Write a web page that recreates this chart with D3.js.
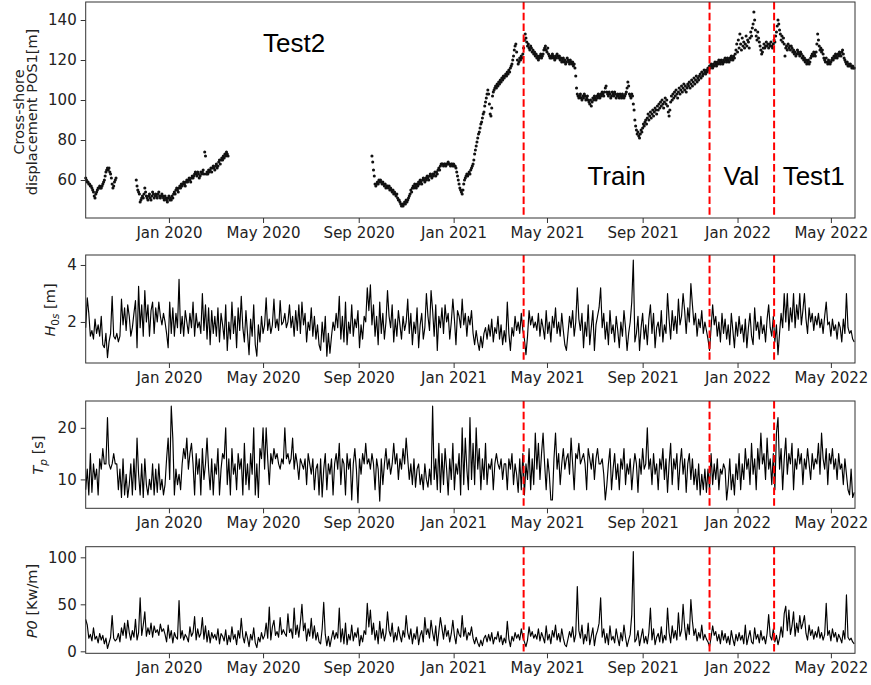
<!DOCTYPE html>
<html>
<head>
<meta charset="utf-8">
<title>Shoreline position and wave forcing</title>
<script src="https://cdn.jsdelivr.net/npm/d3@7"></script>
<style>
  html, body { margin: 0; padding: 0; background: #fff; }
  svg { display: block; }
</style>
</head>
<body>
<svg id="chart" width="871" height="685"></svg>
<script>
// ---------------- data ----------------
// Cross-shore shoreline position POS1 [m], daily values in three survey segments
const pos1SegmentStarts = ["2019-09-16", "2019-11-20", "2020-09-18"];
const pos1SegmentA = [
  61, 60, 59, 59, 58, 58, 57, 57, 56, 55,
  54, 52, 51, 53, 54, 55, 56, 56, 57, 56,
  56, 57, 58, 59, 60, 62, 64, 65, 66, 65,
  66, 64, 63, 61, 58, 56, 57, 59, 60, 61
];
const pos1SegmentB = [
  60, 57, 55, 54, 53, 49, 50, 51, 52, 51,
  53, 56, 54, 52, 51, 50, 52, 53, 51, 50,
  52, 54, 53, 51, 52, 53, 52, 51, 53, 54,
  52, 51, 52, 53, 52, 51, 50, 52, 51, 50,
  49, 51, 52, 50, 51, 50, 52, 51, 53, 54,
  53, 55, 56, 55, 54, 56, 57, 56, 58, 57,
  58, 59, 58, 57, 59, 60, 59, 60, 61, 60,
  59, 61, 62, 61, 62, 63, 64, 63, 62, 64,
  63, 61, 62, 64, 63, 64, 65, 63, 74, 72,
  63, 64, 63, 65, 64, 65, 66, 64, 66, 67,
  66, 65, 67, 68, 66, 67, 69, 70, 68, 70,
  71, 70, 72, 71, 73, 72, 74, 73, 72
];
const pos1SegmentC = [
  72, 69, 65, 62, 58, 57, 58, 59, 58, 60,
  59, 60, 59, 58, 59, 58, 57, 58, 56, 57,
  57, 56, 57, 55, 56, 55, 54, 55, 53, 54,
  53, 52, 53, 51, 50, 50, 49, 48, 47, 48,
  47, 48, 49, 48, 50, 49, 50, 51, 52, 53,
  55, 54, 56, 57, 56, 58, 57, 56, 58, 57,
  59, 58, 60, 59, 58, 60, 61, 60, 59, 61,
  60, 62, 61, 60, 62, 63, 62, 61, 63, 62,
  63, 64, 62, 64, 63, 65, 66, 65, 67, 68,
  68, 68, 67, 68, 68, 67, 68, 68, 69, 68,
  68, 67, 68, 68, 67, 68, 67, 67, 66, 64,
  62, 60, 58, 56, 55, 54, 53, 55, 58, 60,
  61, 62, 63, 62, 63, 64, 63, 65, 66, 67,
  68, 70, 73, 75, 77, 79, 81, 83, 84, 86,
  88, 89, 91, 93, 94, 97, 99, 101, 103, 105,
  103, 98, 93, 92, 96, 102, 104, 105, 106, 107,
  106, 108, 107, 109, 108, 110, 109, 111, 110, 112,
  111, 112, 113, 112, 114, 113, 115, 114, 116, 117,
  118, 120, 122, 125, 127, 128, 124, 120, 118, 119,
  121, 120, 122, 121, 123, 126, 130, 133, 131, 129,
  127, 128, 126, 125, 127, 126, 124, 125, 123, 124,
  122, 123, 121, 122, 120, 121, 122, 123, 121, 122,
  123, 125, 126, 127, 125, 124, 126, 123, 122, 121,
  122, 121, 123, 122, 121, 120, 122, 121, 123, 122,
  121, 122, 120, 121, 119, 120, 121, 119, 120, 118,
  119, 121, 120, 119, 118, 120, 119, 118, 119, 117,
  118, 116, 112, 106, 103, 102, 101, 102, 103, 101,
  100, 102, 101, 103, 102, 100, 101, 102, 100, 99,
  98, 100, 97, 99, 101, 100, 102, 101, 100, 102,
  101, 103, 102, 101, 103, 102, 104, 103, 102, 104,
  106, 107, 104, 103, 102, 104, 103, 101, 102, 104,
  103, 102, 104, 103, 101, 102, 103, 102, 101, 103,
  102, 101, 103, 102, 101, 102, 103, 104, 106, 109,
  107, 103, 102, 101, 103, 102, 98, 95, 90, 87,
  85, 83, 84, 82, 81, 83, 85, 84, 86, 88,
  87, 89, 90, 88, 91, 93, 90, 92, 94, 91,
  93, 95, 92, 94, 96, 95, 93, 97, 95, 98,
  96, 99, 97, 100, 98, 96, 99, 101, 98, 100,
  97, 94, 92, 95, 99, 102, 100, 103, 101, 104,
  102, 105, 103, 101, 104, 106, 103, 105, 107, 104,
  106, 108, 105, 107, 104, 106, 108, 107, 109, 106,
  108, 110, 107, 109, 111, 108, 110, 112, 109, 111,
  110, 112, 113, 111, 114, 112, 113, 115, 114, 113,
  115, 114, 116, 115, 117, 116, 118, 117, 116, 118,
  117, 119, 118, 117, 119, 118, 120, 119, 118, 120,
  119, 118, 120, 119, 121, 120, 119, 121, 120, 119,
  121, 120, 122, 121, 120, 122, 121, 123, 125, 128,
  124, 130, 126, 133, 128, 125, 131, 127, 129, 126,
  128, 132, 127, 130, 129, 126, 131, 134, 132, 136,
  138, 144, 140, 135, 132, 130, 134, 131, 129, 127,
  125, 123, 124, 126, 128, 126, 127, 129, 127, 128,
  126, 128, 127, 129, 127, 126, 128, 130, 129, 132,
  134, 137, 140, 138, 135, 133, 130, 132, 129, 131,
  128, 122, 126, 127, 125, 128, 126, 127, 125, 127,
  126, 124, 125, 123, 124, 122, 123, 125, 124, 123,
  122, 124, 123, 121, 122, 120, 121, 119, 120, 118,
  119, 120, 118, 119, 121, 122, 123, 122, 124, 123,
  122, 124, 128, 133, 130, 127, 125, 126, 124, 125,
  123, 121, 120, 119, 121, 119, 118, 120, 119, 118,
  119, 120, 121, 120, 122, 121, 123, 122, 121, 123,
  122, 124, 123, 122, 124, 125, 123, 121, 120, 119,
  118, 119, 117, 118, 117, 118, 117, 116, 117, 116, 116
];

// Wave forcing, one value every two days from the start date
const waveStart = "2019-09-16";
const waveStepDays = 2;
const hs = [
  1.8, 2.85, 2.3, 1.5, 1.7, 1.4, 2.1, 1.6, 1.9, 1.5,
  2.2, 1.2, 1.1, 1.6, 0.75, 1.3, 1.6, 2.9, 1.5, 1.4,
  1.6, 1.3, 1.5, 2.8, 1.9, 2.5, 1.7, 2.6, 2.2, 1.5,
  1.8, 2.3, 2.75, 1.1, 3.25, 1.8, 2.6, 1.5, 3.1, 2.0,
  2.6, 1.5, 2.4, 2.7, 1.6, 2.5, 2.0, 2.7, 2.2, 1.9,
  2.3, 2.0, 1.6, 1.1, 2.7, 1.6, 2.5, 1.5, 2.3, 1.8,
  3.5, 1.6, 2.2, 1.5, 2.4, 2.0, 1.6, 2.3, 1.8, 2.7,
  1.5, 2.3, 1.8, 2.0, 1.6, 3.0, 1.7, 2.6, 1.4, 2.5,
  1.2, 2.4, 1.6, 2.2, 1.5, 2.5, 1.3, 2.3, 1.9, 1.4,
  2.6, 1.0, 2.0, 1.4, 2.7, 1.6, 2.2, 1.1, 2.5, 1.7,
  2.9, 1.8, 1.3, 2.4, 1.6, 0.85, 2.1, 1.5, 2.6, 1.2,
  0.8, 1.9, 1.3, 2.2, 1.6, 1.9, 2.85, 1.7, 2.1, 1.6,
  1.9, 2.8, 1.8, 2.1, 1.7, 2.75, 1.9, 2.0, 2.3, 1.8,
  2.0, 2.6, 1.8, 2.2, 1.5, 2.4, 1.7, 2.6, 1.6, 2.7,
  1.9, 2.3, 1.3, 2.0, 1.7, 2.5, 1.5, 2.2, 1.4, 1.9,
  1.2, 1.0, 2.0, 1.3, 2.2, 0.8, 1.6, 0.9, 1.5, 2.0,
  1.7, 2.3, 1.8, 2.9, 1.4, 2.2, 1.3, 2.7, 1.2, 2.0,
  1.6, 2.6, 1.5, 2.1, 1.8, 2.4, 1.1, 1.9, 1.4, 2.2,
  2.0, 3.2, 2.4, 3.3, 1.9, 2.6, 1.5, 2.2, 1.2, 2.7,
  1.6, 2.3, 1.4, 2.0, 3.1, 2.2, 1.8, 2.6, 1.3, 2.1,
  1.5, 2.4, 1.9, 1.4, 2.2, 1.7, 2.0, 2.8, 1.6, 2.3,
  1.2, 2.0, 1.6, 2.5, 1.1, 1.9, 2.3, 1.4, 1.8, 3.0,
  2.2, 1.7, 3.1, 2.4, 1.5, 2.6, 1.0, 2.2, 1.8, 2.5,
  1.6, 2.6, 2.0, 2.3, 1.4, 2.0, 2.8, 2.1, 1.2, 2.4,
  2.2, 1.8, 2.8, 1.9, 2.3, 1.5, 2.2, 1.9, 2.4, 1.6,
  1.2, 1.7, 1.3, 1.0, 1.5, 1.1, 1.6, 1.8, 1.4, 1.9,
  1.5, 2.1, 1.3, 1.8, 1.6, 2.2, 1.4, 1.9, 1.2, 1.7,
  1.3, 2.7, 1.6, 1.0, 1.8, 1.5, 2.2, 1.7, 2.0, 1.6,
  2.3, 1.7, 1.4, 0.85, 1.5, 2.4, 1.9, 2.2, 1.8, 2.0,
  1.7, 2.3, 1.5, 2.1, 1.8, 1.4, 2.4, 1.6, 2.0, 1.3,
  2.2, 1.8, 2.5, 1.6, 2.0, 1.5, 2.3, 1.7, 1.2, 1.0,
  1.6, 2.2, 1.8, 2.4, 1.5, 2.0, 3.2, 2.1, 1.7, 2.3,
  1.1, 2.0, 1.5, 2.6, 1.2, 1.8, 2.4, 1.0, 1.9, 2.2,
  2.5, 3.2, 1.8, 2.3, 1.4, 2.0, 1.2, 2.4, 1.6, 1.9,
  1.3, 2.2, 1.7, 1.1, 2.0, 1.5, 2.4, 1.8, 1.0, 1.6,
  2.0, 2.7, 4.17, 1.3, 1.6, 2.2, 1.0, 1.8, 2.3, 1.4,
  1.9, 1.2, 2.1, 2.6, 1.6, 2.3, 1.1, 1.8, 2.0, 1.5,
  2.4, 1.3, 1.9, 1.6, 3.0, 2.1, 1.4, 2.4, 1.7, 2.2,
  1.6, 2.8, 1.9, 2.2, 3.0, 2.4, 1.6, 2.5, 2.0, 3.35,
  2.6, 1.9, 2.3, 1.5, 2.1, 1.8, 2.4, 1.6, 2.0, 1.7,
  1.4, 1.0, 1.8, 2.6, 1.9, 2.2, 1.5, 2.0, 1.3, 2.3,
  1.6, 2.1, 1.4, 1.9, 1.2, 2.3, 1.7, 1.1, 2.0, 1.5,
  2.2, 1.6, 1.9, 1.3, 2.1, 1.1, 1.8, 2.3, 1.5, 1.2,
  2.5, 1.7, 2.0, 1.4, 2.2, 1.6, 1.9, 1.3, 2.1, 2.6,
  1.8, 1.5, 2.2, 1.3, 1.9, 0.85, 1.6, 2.3, 1.8, 3.0,
  2.0, 3.0, 1.7, 2.5, 2.0, 3.0, 1.8, 2.6, 2.1, 3.0,
  1.9, 2.4, 3.0, 2.1, 1.6, 2.5, 2.0, 2.3, 1.7, 2.2,
  1.9, 2.3, 1.8, 2.1, 1.6, 2.2, 2.7, 1.9, 2.0, 1.5,
  2.1, 1.7, 1.9, 1.4, 2.0, 1.8, 1.3, 2.1, 1.6, 3.0,
  1.8, 1.6, 1.7, 1.4, 1.3
];
const tp = [
  8, 12, 7, 15, 7.5, 13, 10, 12, 7, 14,
  12, 16, 13, 13, 22, 13, 12, 13, 15, 13,
  13, 8, 12, 6.5, 14, 7, 11, 6.5, 9, 13,
  7, 14, 8, 18, 11, 7, 13, 6.5, 14, 9,
  7, 10, 8, 13, 7, 12, 7.5, 13, 8, 10,
  7, 9, 14, 18, 10, 24.2, 18, 7, 12, 9,
  11, 8, 13, 16, 14, 18, 12, 15, 17, 13,
  7, 15, 11, 14, 7, 16, 10, 13, 18, 12,
  8, 14, 7, 13, 11, 16, 7, 12, 15, 14,
  20, 9, 14, 7, 16, 11, 13, 8, 15, 12,
  14, 7, 17, 9, 13, 8, 15, 11, 20, 7,
  13, 6.5, 16, 14, 20, 12, 20, 14, 9, 15,
  13, 16, 14, 15, 13, 12, 14, 13, 20, 14,
  15, 13, 14, 18, 12, 15, 13, 10, 14, 13,
  12, 14, 9, 15, 13, 11, 14, 8, 12, 13,
  7, 14, 6.6, 12, 15, 8, 13, 11, 14, 7,
  13, 15, 12, 17, 9, 14, 13, 7, 15, 12,
  14, 6, 13, 16, 12, 5.5, 14, 11, 15, 13,
  17, 13, 14, 12, 15, 13, 8, 14, 12, 5.8,
  14, 9, 13, 16, 12, 14, 11, 13, 17, 13,
  15, 10, 14, 12, 16, 13, 18, 14, 10, 13,
  9, 14, 8.5, 12, 13, 9, 11, 8, 13, 10,
  8.5, 12, 9, 24.2, 10, 14, 8, 17, 7.5, 15,
  9, 16, 12, 7, 14, 10, 17, 8, 13, 11,
  15, 7, 20, 9, 18, 12, 8, 22, 10, 17,
  9, 20, 12, 16, 8, 14, 10, 17, 9, 13,
  12, 14, 8, 13, 15, 13, 12, 14, 10, 13,
  13, 8, 14, 12, 15, 9, 13, 11, 7.5, 14,
  8, 15, 7, 13, 10, 16, 8, 14, 9, 19,
  12, 17, 10, 15, 19, 13, 8, 14, 11, 6,
  6, 14, 19, 12, 15, 9, 13, 16, 12, 14,
  15, 11, 18, 13, 8, 15, 14, 17, 13, 14,
  15, 13, 8, 16, 14, 12, 15, 10, 14, 16,
  13, 13, 14, 11, 6, 9, 13, 16, 8, 12,
  15, 10, 13, 8, 14, 12, 16, 9, 13, 11,
  14, 8, 12, 15, 13, 7.5, 14, 11, 16, 12,
  13, 20, 12, 14, 9, 15, 11, 13, 8, 14,
  12, 16, 10, 14, 7.5, 13, 17, 9, 14, 12,
  15, 8, 13, 16, 11, 14, 7.5, 13, 15, 10,
  14, 9, 12, 8, 13, 7, 11, 8, 12, 7.5,
  12, 8, 15, 9, 13, 10, 14, 8, 12, 11,
  13, 12, 6, 9, 14, 8, 11, 7, 13, 10,
  15, 8, 13, 10, 16, 12, 14, 9, 17, 11,
  14, 8, 16, 12, 19, 13, 15, 10, 18, 12,
  14, 9, 15, 8, 19, 22, 12, 16, 8, 14,
  18, 11, 15, 13, 17, 8, 14, 12, 16, 13,
  15, 9, 14, 12, 16, 13, 10, 15, 12, 14,
  13, 17, 11, 19, 14, 12, 16, 9, 15, 13,
  16, 12, 14, 10, 15, 12, 13, 9, 14, 11,
  8, 7, 12, 6.5, 7.5
];
const power = [
  34, 28, 14, 18, 11, 25, 13, 16, 9, 19,
  12, 17, 8, 14, 3, 9, 15, 38, 14, 11,
  13, 19, 10, 25, 17, 30, 14, 33, 20, 12,
  22, 15, 34, 12, 20, 57, 17, 28, 42, 16,
  25, 18, 30, 15, 27, 20, 23, 17, 29, 21,
  24, 18, 10, 28, 14, 22, 9, 20, 15, 13,
  54, 14, 22, 12, 18, 15, 10, 26, 16, 20,
  37, 12, 24, 15, 19, 36, 13, 27, 10, 22,
  9, 20, 14, 18, 12, 24, 8, 19, 16, 11,
  23, 7, 17, 10, 26, 13, 18, 7, 22, 14,
  35, 16, 9, 21, 14, 5, 18, 12, 25, 9,
  4, 15, 10, 20, 13, 17, 30, 14, 47, 12,
  26, 33, 17, 21, 15, 36, 18, 23, 19, 16,
  40, 20, 24, 14, 46, 18, 28, 15, 31, 50,
  22, 30, 11, 24, 16, 35, 14, 27, 12, 20,
  10, 8, 24, 52, 18, 6, 16, 5, 14, 22,
  13, 20, 14, 46, 10, 24, 8, 30, 7, 18,
  12, 28, 11, 20, 15, 25, 6, 17, 10, 22,
  18, 51, 26, 44, 18, 30, 12, 22, 8, 32,
  14, 24, 11, 19, 42, 22, 16, 30, 10, 20,
  12, 26, 17, 10, 22, 15, 38, 20, 13, 24,
  8, 19, 13, 26, 7, 17, 22, 10, 36, 18,
  24, 14, 33, 20, 11, 27, 6, 21, 36, 25,
  13, 28, 16, 22, 10, 19, 33, 17, 8, 24,
  18, 15, 38, 16, 25, 12, 20, 17, 26, 14,
  8, 15, 9, 5, 12, 6, 14, 17, 10, 18,
  11, 20, 8, 15, 13, 21, 10, 17, 7, 14,
  9, 32, 13, 5, 16, 11, 20, 14, 18, 12,
  24, 15, 10, 5, 12, 26, 16, 21, 14, 18,
  13, 24, 11, 20, 15, 9, 27, 12, 18, 8,
  22, 15, 28, 12, 19, 10, 24, 14, 7, 5,
  13, 21, 15, 26, 10, 18, 69, 22, 14, 28,
  8, 18, 11, 30, 7, 16, 25, 6, 17, 22,
  30, 57, 15, 24, 9, 19, 7, 27, 12, 16,
  9, 24, 14, 6, 20, 11, 28, 15, 5, 12,
  18, 39, 106, 10, 13, 22, 6, 15, 24, 9,
  16, 8, 20, 46, 12, 24, 7, 15, 19, 10,
  26, 9, 17, 12, 46, 20, 9, 27, 14, 22,
  12, 41, 16, 22, 50, 26, 12, 29, 18, 55,
  32, 17, 24, 11, 20, 14, 28, 12, 18, 13,
  10, 5, 15, 27, 17, 21, 11, 18, 8, 22,
  12, 19, 9, 16, 7, 22, 13, 6, 18, 11,
  20, 12, 17, 8, 28, 7, 15, 22, 10, 8,
  25, 13, 18, 9, 22, 12, 16, 8, 19, 39,
  16, 12, 24, 10, 17, 7, 14, 26, 15, 40,
  48, 22, 44, 18, 27, 42, 16, 30, 20, 38,
  24, 30, 38, 19, 12, 28, 17, 23, 13, 21,
  15, 26, 14, 20, 12, 18, 51, 17, 22, 11,
  24, 15, 20, 10, 18, 14, 9, 22, 13, 60,
  15, 12, 14, 10, 8
];

// Axis ticks, data splits and period labels
const timeExtent = ["2019-09-16", "2022-06-01"];
const tickLabels = ["Jan 2020", "May 2020", "Sep 2020", "Jan 2021", "May 2021", "Sep 2021", "Jan 2022", "May 2022"];
const splitDates = ["2021-04-01", "2021-11-26", "2022-02-17"];
const periodLabels = ["Test2", "Train", "Val", "Test1"];
const periodLabelDates = ["2020-05-01", "2021-06-22", "2021-12-14", "2022-02-28"];
const periodLabelLevels = [124, 57.5, 57.5, 57.5];
const pos1Ticks = [60, 80, 100, 120, 140];
const hsTicks = [2, 4];
const tpTicks = [10, 20];
const powerTicks = [0, 50, 100];

// ---------------- drawing ----------------
const parseDay = d3.utcParse("%Y-%m-%d");
const parseMonth = d3.utcParse("%b %Y");
const svg = d3.select("#chart");

const plotLeft = 85.7, plotRight = 855;
const x = d3.scaleUtc()
  .domain(timeExtent.map(parseDay))
  .range([plotLeft, plotRight]);
const tickDates = tickLabels.map(parseMonth);

const tickFont = "DejaVu Sans, sans-serif";
const ink = "#222";

const panels = [
  { top: 2,     bottom: 218,   domain: [41, 149],     ticks: pos1Ticks },
  { top: 255,   bottom: 363,   domain: [0.56, 4.35],  ticks: hsTicks },
  { top: 401,   bottom: 508.3, domain: [4.4, 25.2],   ticks: tpTicks },
  { top: 546.7, bottom: 653.3, domain: [-2.1, 111.3], ticks: powerTicks }
];
panels.forEach(p => {
  p.y = d3.scaleLinear().domain(p.domain).range([p.bottom, p.top]);
  p.g = svg.append("g");
});

function waveSeries(values) {
  const start = parseDay(waveStart);
  return values.map((v, i) => ({ date: d3.utcDay.offset(start, i * waveStepDays), value: v }));
}

// POS1 scatter
const pos1Points = [];
[pos1SegmentA, pos1SegmentB, pos1SegmentC].forEach((seg, k) => {
  const start = parseDay(pos1SegmentStarts[k]);
  seg.forEach((v, i) => pos1Points.push({ date: d3.utcDay.offset(start, i), value: v }));
});
panels[0].g.append("g")
  .selectAll("circle")
  .data(pos1Points)
  .join("circle")
  .attr("cx", d => x(d.date))
  .attr("cy", d => panels[0].y(d.value))
  .attr("r", 1.55)
  .attr("fill", "#111");

// Wave lines
[[1, hs], [2, tp], [3, power]].forEach(([k, values]) => {
  const p = panels[k];
  const line = d3.line().x(d => x(d.date)).y(d => p.y(d.value));
  p.g.append("path")
    .datum(waveSeries(values))
    .attr("d", line)
    .attr("fill", "none")
    .attr("stroke", "#000")
    .attr("stroke-width", 1.15)
    .attr("stroke-linejoin", "round");
});

// Split lines, frames and axes
panels.forEach(p => {
  p.g.selectAll("line.split")
    .data(splitDates.map(parseDay))
    .join("line")
    .attr("class", "split")
    .attr("x1", d => x(d)).attr("x2", d => x(d))
    .attr("y1", p.top).attr("y2", p.bottom)
    .attr("stroke", "#ff0000")
    .attr("stroke-width", 2)
    .attr("stroke-dasharray", "7.5,3.3");

  p.g.append("rect")
    .attr("x", plotLeft).attr("y", p.top)
    .attr("width", plotRight - plotLeft).attr("height", p.bottom - p.top)
    .attr("fill", "none").attr("stroke", "#333").attr("stroke-width", 1);

  const xAxis = p.g.append("g")
    .attr("transform", `translate(0,${p.bottom})`)
    .call(d3.axisBottom(x).tickValues(tickDates).tickFormat((d, i) => tickLabels[i]).tickSize(5).tickPadding(4));
  const yAxis = p.g.append("g")
    .attr("transform", `translate(${plotLeft},0)`)
    .call(d3.axisLeft(p.y).tickValues(p.ticks).tickFormat(d3.format("d")).tickSize(5).tickPadding(4));
  [xAxis, yAxis].forEach(a => {
    a.select(".domain").remove();
    a.selectAll(".tick line").attr("stroke", "#333").attr("stroke-width", 1);
    a.selectAll(".tick text").attr("fill", ink).style("font-family", tickFont).style("font-size", "15px");
  });
});

// Axis titles
function yTitle(cx, cy, build) {
  const t = svg.append("text")
    .attr("transform", `translate(${cx},${cy}) rotate(-90)`)
    .attr("text-anchor", "middle")
    .attr("dy", "0.35em")
    .attr("fill", ink)
    .style("font-family", tickFont)
    .style("font-size", "14.5px");
  build(t);
}
yTitle(18.5, 112, t => t.text("Cross-shore"));
yTitle(31.5, 112, t => t.text("displacement POS1[m]"));
yTitle(50, 310, t => {
  t.append("tspan").style("font-style", "italic").text("H");
  t.append("tspan").attr("dy", 4).style("font-size", "10.5px").text("0");
  t.append("tspan").style("font-size", "10.5px").style("font-style", "italic").text("s");
  t.append("tspan").attr("dy", -4).text(" [m]");
});
yTitle(37.5, 455, t => {
  t.append("tspan").style("font-style", "italic").text("T");
  t.append("tspan").attr("dy", 4).style("font-size", "10.5px").style("font-style", "italic").text("p");
  t.append("tspan").attr("dy", -4).text(" [s]");
});
yTitle(32, 601, t => {
  t.append("tspan").style("font-style", "italic").text("P0");
  t.append("tspan").text(" [Kw/m]");
});

// Period labels in the top panel
svg.append("g")
  .selectAll("text")
  .data(periodLabels)
  .join("text")
  .attr("x", (d, i) => x(parseDay(periodLabelDates[i])))
  .attr("y", (d, i) => panels[0].y(periodLabelLevels[i]))
  .attr("fill", "#000")
  .style("font-family", "Liberation Sans, Arial, sans-serif")
  .style("font-size", "26px")
  .text(d => d);
</script>
</body>
</html>
